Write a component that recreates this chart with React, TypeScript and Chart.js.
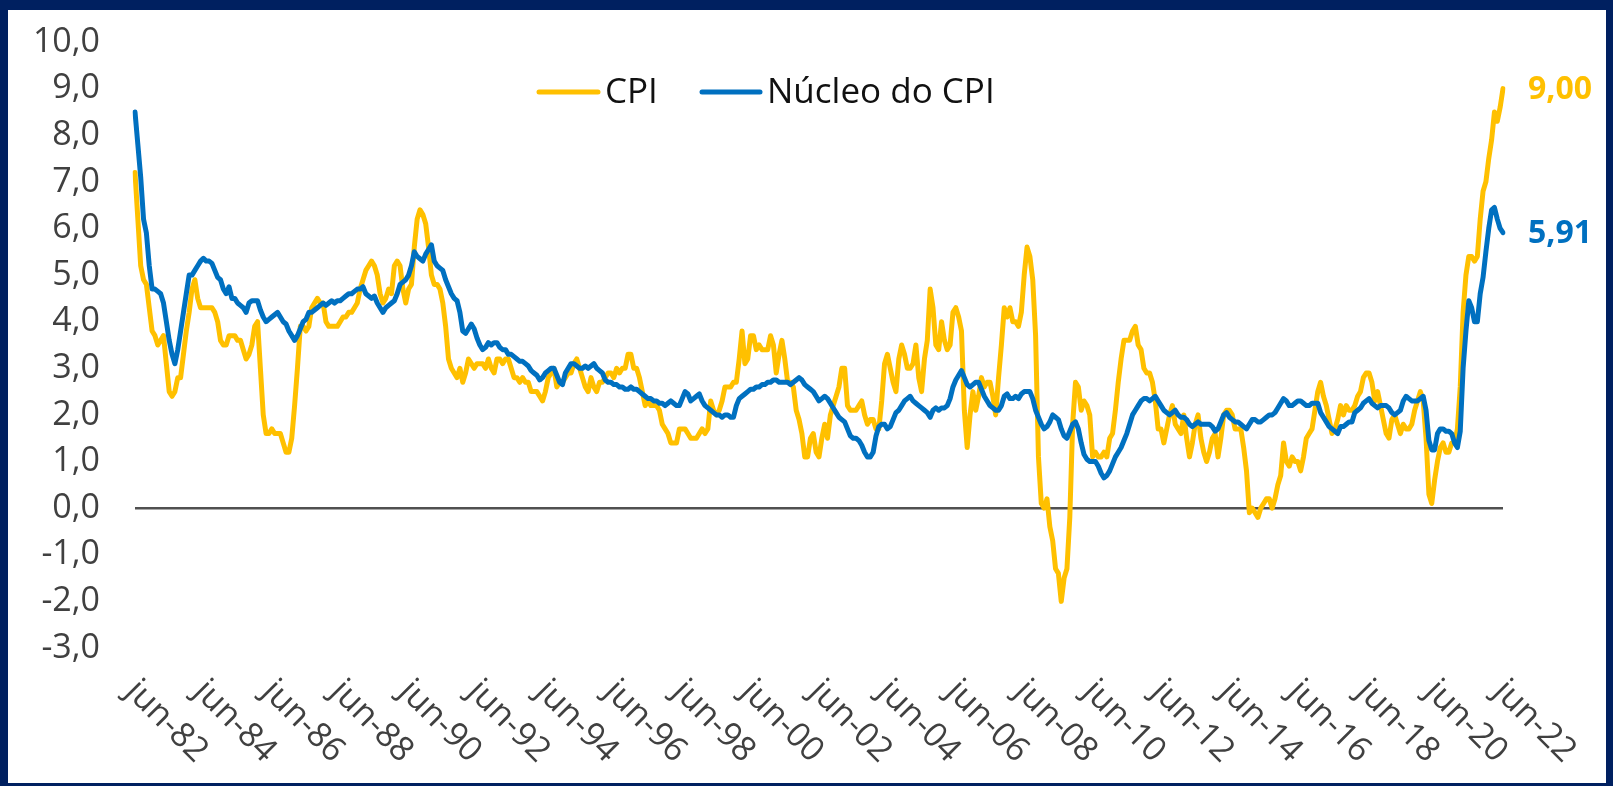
import { useEffect, useRef } from "react";
import { Chart, registerables } from "chart.js";

Chart.register(...registerables);

// ---- Data (year-on-year %, monthly, jun-82 .. jun-22) ----
const cpi1982to1989 = [
  7.2, 6.2, 5.2, 4.9, 4.8, 4.3, 3.8,
  3.7, 3.5, 3.6, 3.7, 3.1, 2.5, 2.4, 2.5, 2.8, 2.8, 3.3, 3.8,
  4.2, 4.7, 4.9, 4.5, 4.3, 4.3, 4.3, 4.3, 4.3, 4.2, 4.0, 3.6,
  3.5, 3.5, 3.7, 3.7, 3.7, 3.6, 3.6, 3.4, 3.2, 3.3, 3.5, 3.9,
  4.0, 3.0, 2.0, 1.6, 1.6, 1.7, 1.6, 1.6, 1.6, 1.4, 1.2, 1.2,
  1.5, 2.2, 3.0, 3.9, 3.9, 3.8, 3.9, 4.3, 4.4, 4.5, 4.4, 4.4,
  4.0, 3.9, 3.9, 3.9, 3.9, 4.0, 4.1, 4.1, 4.2, 4.2, 4.3, 4.4,
  4.7, 4.9, 5.1, 5.2, 5.3, 5.2, 5.0, 4.6, 4.4, 4.5, 4.7, 4.6,
];
const cpi1990to1999 = [
  5.2, 5.3, 5.2, 4.7, 4.4, 4.7, 4.8, 5.6, 6.2, 6.4, 6.3, 6.1,
  5.6, 5.0, 4.8, 4.8, 4.7, 4.4, 3.9, 3.2, 3.0, 2.9, 2.8, 3.0,
  2.7, 2.9, 3.2, 3.1, 3.0, 3.1, 3.1, 3.1, 3.0, 3.2, 3.0, 2.9,
  3.2, 3.2, 3.1, 3.2, 3.2, 3.0, 2.8, 2.8, 2.7, 2.8, 2.7, 2.7,
  2.5, 2.5, 2.5, 2.4, 2.3, 2.5, 2.8, 2.9, 3.0, 2.6, 2.7, 2.7,
  2.8, 2.9, 2.9, 3.1, 3.2, 3.0, 2.8, 2.6, 2.5, 2.8, 2.6, 2.5,
  2.7, 2.7, 2.8, 2.9, 2.9, 2.8, 3.0, 2.9, 3.0, 3.0, 3.3, 3.3,
  3.0, 3.0, 2.8, 2.5, 2.2, 2.3, 2.2, 2.2, 2.2, 2.1, 1.8, 1.7,
  1.6, 1.4, 1.4, 1.4, 1.7, 1.7, 1.7, 1.6, 1.5, 1.5, 1.5, 1.6,
  1.7, 1.6, 1.7, 2.3, 2.1, 2.0, 2.1, 2.3, 2.6, 2.6, 2.6, 2.7,
];
const cpi2000to2009 = [
  2.7, 3.2, 3.8, 3.1, 3.2, 3.7, 3.7, 3.4, 3.5, 3.4, 3.4, 3.4,
  3.7, 3.5, 2.9, 3.3, 3.6, 3.2, 2.7, 2.7, 2.6, 2.1, 1.9, 1.6,
  1.1, 1.1, 1.5, 1.6, 1.2, 1.1, 1.5, 1.8, 1.5, 2.0, 2.2, 2.4,
  2.6, 3.0, 3.0, 2.2, 2.1, 2.1, 2.1, 2.2, 2.3, 2.0, 1.8, 1.9,
  1.9, 1.7, 1.7, 2.3, 3.1, 3.3, 3.0, 2.7, 2.5, 3.2, 3.5, 3.3,
  3.0, 3.0, 3.1, 3.5, 2.8, 2.5, 3.2, 3.6, 4.7, 4.3, 3.5, 3.4,
  4.0, 3.6, 3.4, 3.5, 4.2, 4.3, 4.1, 3.8, 2.1, 1.3, 2.0, 2.5,
  2.1, 2.4, 2.8, 2.6, 2.7, 2.7, 2.4, 2.0, 2.8, 3.5, 4.3, 4.1,
  4.3, 4.0, 4.0, 3.9, 4.2, 5.0, 5.6, 5.4, 4.9, 3.7, 1.1, 0.1,
  0.0, 0.2, -0.4, -0.7, -1.3, -1.4, -2.0, -1.5, -1.3, -0.2, 1.8, 2.7,
];
const cpi2010to2022 = [
  2.6, 2.1, 2.3, 2.2, 2.0, 1.1, 1.2, 1.1, 1.1, 1.2, 1.1, 1.5,
  1.6, 2.1, 2.7, 3.2, 3.6, 3.6, 3.6, 3.8, 3.9, 3.5, 3.4, 3.0,
  2.9, 2.9, 2.7, 2.3, 1.7, 1.7, 1.4, 1.7, 2.0, 2.2, 1.8, 1.7,
  1.6, 2.0, 1.5, 1.1, 1.4, 1.8, 2.0, 1.5, 1.2, 1.0, 1.2, 1.5,
  1.6, 1.1, 1.5, 2.0, 2.1, 2.1, 2.0, 1.7, 1.7, 1.7, 1.3, 0.8,
  -0.1, 0.0, -0.1, -0.2, 0.0, 0.1, 0.2, 0.2, 0.0, 0.2, 0.5, 0.7,
  1.4, 1.0, 0.9, 1.1, 1.0, 1.0, 0.8, 1.1, 1.5, 1.6, 1.7, 2.1,
  2.5, 2.7, 2.4, 2.2, 1.9, 1.6, 1.7, 1.9, 2.2, 2.0, 2.2, 2.1,
  2.1, 2.2, 2.4, 2.5, 2.8, 2.9, 2.9, 2.7, 2.3, 2.5, 2.2, 1.9,
  1.6, 1.5, 1.9, 2.0, 1.8, 1.6, 1.8, 1.7, 1.7, 1.8, 2.1, 2.3,
  2.5, 2.3, 1.5, 0.3, 0.1, 0.6, 1.0, 1.3, 1.4, 1.2, 1.2, 1.4,
  1.4, 1.7, 2.6, 4.2, 5.0, 5.4, 5.4, 5.3, 5.4, 6.2, 6.8, 7.0,
  7.5, 7.9, 8.5, 8.3, 8.6, 9.0,
];

const core1982to1989 = [
  8.5, 7.8, 7.1, 6.2, 5.9, 5.2, 4.7,
  4.7, 4.65, 4.6, 4.4, 4.0, 3.6, 3.3, 3.1, 3.4, 3.8, 4.2, 4.6,
  5.0, 5.0, 5.1, 5.2, 5.3, 5.36, 5.3, 5.3, 5.25, 5.1, 4.95, 4.9,
  4.7, 4.6, 4.75, 4.5, 4.5, 4.4, 4.35, 4.3, 4.2, 4.4, 4.45, 4.45,
  4.45, 4.25, 4.1, 4.0, 4.05, 4.1, 4.15, 4.2, 4.1, 4.0, 3.95, 3.8,
  3.7, 3.6, 3.7, 3.85, 4.0, 4.05, 4.2, 4.2, 4.25, 4.3, 4.35, 4.4,
  4.35, 4.4, 4.45, 4.4, 4.45, 4.45, 4.5, 4.55, 4.6, 4.6, 4.65, 4.7,
  4.7, 4.75, 4.6, 4.55, 4.5, 4.55, 4.4, 4.3, 4.2, 4.3, 4.35, 4.4,
];
const core1990to1999 = [
  4.45, 4.6, 4.8, 4.85, 4.9, 5.0, 5.2, 5.5, 5.4, 5.35, 5.3, 5.45,
  5.55, 5.65, 5.3, 5.2, 5.15, 5.1, 4.9, 4.75, 4.6, 4.5, 4.45, 4.2,
  3.8, 3.75, 3.85, 3.95, 3.85, 3.65, 3.5, 3.4, 3.45, 3.55, 3.5, 3.55,
  3.55, 3.45, 3.4, 3.4, 3.3, 3.3, 3.25, 3.2, 3.15, 3.15, 3.1, 3.05,
  2.95, 2.9, 2.85, 2.75, 2.8, 2.9, 2.95, 3.0, 3.0, 2.85, 2.7, 2.65,
  2.9, 3.0, 3.1, 3.1, 3.05, 3.0, 3.0, 3.05, 3.0, 3.05, 3.1, 3.0,
  2.95, 2.9, 2.75, 2.7, 2.7, 2.65, 2.65, 2.6, 2.6, 2.55, 2.55, 2.6,
  2.55, 2.55, 2.5, 2.45, 2.4, 2.35, 2.35, 2.3, 2.3, 2.25, 2.25, 2.2,
  2.25, 2.3, 2.25, 2.2, 2.2, 2.35, 2.5, 2.45, 2.3, 2.35, 2.4, 2.45,
  2.3, 2.2, 2.15, 2.1, 2.05, 2.0, 2.0, 1.95, 2.0, 2.0, 1.95, 1.95,
];
const core2000to2009 = [
  2.2, 2.35, 2.4, 2.45, 2.5, 2.55, 2.55, 2.6, 2.6, 2.65, 2.65, 2.7,
  2.7, 2.75, 2.75, 2.7, 2.7, 2.7, 2.7, 2.65, 2.7, 2.75, 2.8, 2.75,
  2.65, 2.6, 2.55, 2.5, 2.4, 2.3, 2.35, 2.4, 2.35, 2.25, 2.15, 2.05,
  1.95, 1.9, 1.85, 1.7, 1.55, 1.5, 1.5, 1.45, 1.35, 1.2, 1.1, 1.1,
  1.2, 1.55, 1.75, 1.8, 1.8, 1.7, 1.75, 1.9, 2.05, 2.1, 2.2, 2.3,
  2.35, 2.4, 2.3, 2.25, 2.2, 2.15, 2.1, 2.05, 1.95, 2.1, 2.15, 2.1,
  2.15, 2.15, 2.2, 2.35, 2.6, 2.75, 2.85, 2.95, 2.8, 2.65, 2.6, 2.65,
  2.7, 2.7, 2.55, 2.4, 2.3, 2.2, 2.15, 2.1, 2.1, 2.2, 2.4, 2.45,
  2.35, 2.35, 2.4, 2.35, 2.45, 2.5, 2.5, 2.5, 2.35, 2.1, 1.95, 1.8,
  1.7, 1.75, 1.85, 2.0, 1.95, 1.9, 1.7, 1.55, 1.5, 1.65, 1.8, 1.85,
];
const core2010to2022 = [
  1.7, 1.4, 1.15, 1.05, 1.0, 1.0, 1.0, 0.9, 0.75, 0.65, 0.7, 0.8,
  0.95, 1.1, 1.2, 1.3, 1.45, 1.6, 1.8, 2.0, 2.1, 2.2, 2.3, 2.35,
  2.35, 2.3, 2.35, 2.4, 2.3, 2.2, 2.1, 2.05, 2.0, 2.05, 2.1, 2.0,
  1.95, 1.95, 1.9, 1.8, 1.75, 1.8, 1.85, 1.8, 1.8, 1.8, 1.8, 1.75,
  1.65, 1.7, 1.85, 2.0, 2.05, 1.95, 1.9, 1.85, 1.85, 1.8, 1.75, 1.7,
  1.8, 1.9, 1.9, 1.85, 1.85, 1.9, 1.95, 2.0, 2.0, 2.05, 2.15, 2.25,
  2.35, 2.3, 2.2, 2.2, 2.25, 2.3, 2.3, 2.25, 2.2, 2.2, 2.25, 2.25,
  2.25, 2.05, 1.95, 1.85, 1.75, 1.7, 1.65, 1.6, 1.75, 1.75, 1.8, 1.85,
  1.85, 2.05, 2.1, 2.15, 2.25, 2.3, 2.35, 2.25, 2.2, 2.15, 2.2, 2.2,
  2.2, 2.15, 2.05, 2.0, 2.05, 2.1, 2.3, 2.4, 2.35, 2.3, 2.3, 2.3,
  2.35, 2.4, 2.1, 1.45, 1.25, 1.25, 1.6, 1.7, 1.7, 1.65, 1.65, 1.6,
  1.4, 1.3, 1.65, 3.0, 3.8, 4.45, 4.3, 4.0, 4.0, 4.6, 4.95, 5.5,
  6.0, 6.4, 6.45, 6.2, 6.0, 5.91,
];

const monthNames = ["jan", "fev", "mar", "abr", "mai", "jun", "jul", "ago", "set", "out", "nov", "dez"];
const tickLabels = [
  "jun-82", "jun-84", "jun-86", "jun-88", "jun-90", "jun-92", "jun-94",
  "jun-96", "jun-98", "jun-00", "jun-02", "jun-04", "jun-06", "jun-08",
  "jun-10", "jun-12", "jun-14", "jun-16", "jun-18", "jun-20", "jun-22",
];
const seriesNames = ["CPI", "Núcleo do CPI"];
const endLabels = ["9,00", "5,91"];
const yTicks = { min: -3, max: 10, step: 1 };

const cpi = [...cpi1982to1989, ...cpi1990to1999, ...cpi2000to2009, ...cpi2010to2022];
const core = [...core1982to1989, ...core1990to1999, ...core2000to2009, ...core2010to2022];

const categories: string[] = [];
for (let i = 0; i < cpi.length; i++) {
  const k = 5 + i;
  const yy = (82 + Math.floor(k / 12)) % 100;
  categories.push(`${monthNames[k % 12]}-${String(yy).padStart(2, "0")}`);
}

const YELLOW = "#FFC000";
const BLUE = "#0070C0";
const AXIS_TEXT = "#404040";
const FONT = '"Open Sans", "DejaVu Sans", sans-serif';

const decorPlugin = {
  id: "decor",
  afterDraw(chart: any) {
    const ctx = chart.ctx as CanvasRenderingContext2D;
    const xs = chart.scales.x;
    const ys = chart.scales.y;
    const area = chart.chartArea;
    ctx.save();

    // rotated x-axis labels
    ctx.font = `34px ${FONT}`;
    ctx.fillStyle = AXIS_TEXT;
    ctx.textAlign = "left";
    ctx.textBaseline = "middle";
    tickLabels.forEach((t, i) => {
      const x = xs.getPixelForValue(i * 24);
      ctx.save();
      ctx.translate(x - 4, area.bottom + 38);
      ctx.rotate(Math.PI / 4);
      ctx.fillText(t, 0, 0);
      ctx.restore();
    });

    // legend
    const ly = 82;
    ctx.lineCap = "round";
    ctx.lineWidth = 5;
    ctx.strokeStyle = YELLOW;
    ctx.beginPath();
    ctx.moveTo(531, ly);
    ctx.lineTo(590, ly);
    ctx.stroke();
    ctx.strokeStyle = BLUE;
    ctx.beginPath();
    ctx.moveTo(694, ly);
    ctx.lineTo(752, ly);
    ctx.stroke();
    ctx.font = `35px ${FONT}`;
    ctx.fillStyle = "#111111";
    ctx.textBaseline = "middle";
    ctx.fillText(seriesNames[0], 597, ly + 1);
    ctx.fillText(seriesNames[1], 759, ly + 1);

    // end labels
    ctx.font = `bold 32px ${FONT}`;
    ctx.textAlign = "left";
    ctx.fillStyle = YELLOW;
    ctx.fillText(endLabels[0], 1520, ys.getPixelForValue(cpi[cpi.length - 1]) + 1);
    ctx.fillStyle = BLUE;
    ctx.fillText(endLabels[1], 1520, ys.getPixelForValue(core[core.length - 1]) + 1);

    ctx.restore();
  },
};

export default function App() {
  const canvasRef = useRef<HTMLCanvasElement | null>(null);

  useEffect(() => {
    const canvas = canvasRef.current;
    if (!canvas) return;
    const chart = new Chart(canvas, {
      type: "line",
      data: {
        labels: categories,
        datasets: [
          {
            label: seriesNames[1],
            data: core,
            borderColor: BLUE,
            borderWidth: 5,
            pointRadius: 0,
            tension: 0,
            borderJoinStyle: "round",
            borderCapStyle: "round",
          },
          {
            label: seriesNames[0],
            data: cpi,
            borderColor: YELLOW,
            borderWidth: 5,
            pointRadius: 0,
            tension: 0,
            borderJoinStyle: "round",
            borderCapStyle: "round",
          },
        ],
      },
      options: {
        animation: false,
        responsive: false,
        devicePixelRatio: 1,
        layout: { padding: { top: 32, right: 103, bottom: 0, left: 0 } },
        plugins: {
          legend: { display: false },
          tooltip: { enabled: false },
        },
        scales: {
          x: {
            type: "category",
            grid: { display: false },
            border: { display: false },
            ticks: { display: false },
            afterFit: (scale: any) => {
              scale.height = 135;
            },
          },
          y: {
            min: yTicks.min,
            max: yTicks.max,
            border: { display: false },
            grid: {
              drawTicks: false,
              color: (c: any) => (c.tick && c.tick.value === 0 ? "#505050" : "rgba(0,0,0,0)"),
              lineWidth: (c: any) => (c.tick && c.tick.value === 0 ? 2.5 : 0),
            },
            ticks: {
              stepSize: yTicks.step,
              padding: 35,
              color: AXIS_TEXT,
              font: { family: FONT, size: 34 },
              callback: (v: any) => Number(v).toFixed(1).replace(".", ","),
            },
            afterFit: (scale: any) => {
              scale.width = 127;
              scale.paddingTop = 0;
              scale.paddingBottom = 0;
            },
          },
        },
      },
      plugins: [decorPlugin],
    });
    return () => chart.destroy();
  }, []);

  return (
    <div style={{ position: "fixed", left: 0, top: 0, width: 1613, height: 786, background: "#002060" }}>
      <div style={{ position: "absolute", left: 8, top: 10, width: 1598, height: 773, background: "#ffffff" }}>
        <canvas ref={canvasRef} width={1598} height={773} style={{ display: "block", width: 1598, height: 773 }} />
      </div>
    </div>
  );
}
